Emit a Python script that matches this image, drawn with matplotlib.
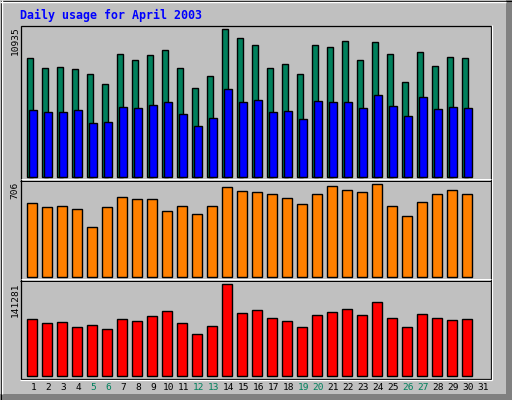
import matplotlib
matplotlib.use("Agg")
import matplotlib.pyplot as plt
from matplotlib.patches import Rectangle
from matplotlib.lines import Line2D
import matplotlib.transforms as mtransforms

title = "Daily usage for April 2003"
days = list(range(1, 31))
day_labels = [str(d) for d in range(1, 32)]
weekend_days = [5, 6, 12, 13, 19, 20, 26, 27]

hits = [8784, 8042, 8116, 7968, 7597, 6855, 9081, 8636, 9007, 9378,
        8042, 6558, 7449, 10935, 10268, 9749, 8042, 8339, 7597, 9749,
        9600, 10045, 8636, 9971, 9081, 7004, 9229, 8191, 8858, 8784]
files = [4926, 4778, 4778, 4926, 3962, 4036, 5149, 5075, 5297, 5520,
         4629, 3739, 4333, 6484, 5520, 5668, 4778, 4852, 4259, 5594,
         5520, 5520, 5075, 6039, 5223, 4481, 5891, 5000, 5149, 5075]
sites = [561, 530, 538, 515, 377, 530, 607, 591, 591, 500,
         538, 477, 538, 683, 652, 645, 630, 599, 553, 630,
         691, 660, 645, 706, 538, 461, 568, 630, 660, 630]
kbytes = [87178, 80995, 82540, 74812, 77903, 71720, 87178, 84086, 91815, 99543,
          80995, 63992, 76358, 141281, 96452, 101089, 88723, 84086, 74812, 93360,
          97997, 102635, 93360, 113454, 88723, 74812, 94906, 88723, 85632, 87178]

BG = "#C0C0C0"
GREEN = "#00805C"
BLUE = "#0000FF"
ORANGE = "#FF8000"
RED = "#FF0000"
W, H = 512, 400

fig = plt.figure(figsize=(W / 100, H / 100), dpi=100, facecolor=BG)

# overlay for frame decorations (pixel coordinates)
deco = fig.add_axes([0, 0, 1, 1], zorder=5)
deco.set_xlim(0, W)
deco.set_ylim(H, 0)
deco.axis("off")
deco.patch.set_alpha(0)

def hline(y, x0, x1, c, lw=1.0):
    deco.add_line(Line2D([x0, x1], [y, y], color=c, lw=lw * 0.72, solid_capstyle="butt"))

def vline(x, y0, y1, c, lw=1.0):
    deco.add_line(Line2D([x, x], [y0, y1], color=c, lw=lw * 0.72, solid_capstyle="butt"))

# outer frame
deco.add_patch(Rectangle((506, 0), 6, H, color="#808080", lw=0))
deco.add_patch(Rectangle((0, 394), W, 6, color="#808080", lw=0))
hline(1.5, 0, 506, "white", 1.4)
vline(1.5, 0, 394, "white", 1.4)
deco.add_patch(Rectangle((0.5, 0.5), W - 1, H - 1, fill=False, ec="black", lw=0.72))

# inner frame
deco.add_patch(Rectangle((20.5, 25.5), 470.5, 353.5, fill=False, ec="black", lw=0.9))
vline(492, 25, 380, "white", 1.2)
hline(380.2, 20, 492, "white", 1.2)
hline(179.2, 21, 491, "white", 1.0)
hline(180.5, 20, 491, "black", 1.0)
hline(279.2, 21, 491, "white", 1.0)
hline(280.5, 20, 491, "black", 1.0)

fig.text(20 / W, 1 - 15 / H, title, color=BLUE, fontsize=8.4,
         family="DejaVu Sans Mono", fontweight="bold", ha="left", va="center")

LEFT, RIGHT = 20, 491
X_FIRST = 31.7   # pixel centre of day 1
STEP = 15.0
xlo = 1 - (X_FIRST - LEFT) / STEP
xhi = xlo + (RIGHT - LEFT) / STEP

def make_panel(top, bottom, maxval, maxpix):
    ax = fig.add_axes([LEFT / W, 1 - bottom / H, (RIGHT - LEFT) / W, (bottom - top) / H])
    ax.patch.set_alpha(0)
    for s in ax.spines.values():
        s.set_visible(False)
    ax.set_xticks([])
    ax.set_yticks([])
    k = maxval / maxpix
    base = 3.3
    ax.set_ylim(-base * k, (bottom - top - base) * k)
    ax.set_xlim(xlo, xhi)
    return ax

ax1 = make_panel(25, 180, max(hits), 147.4)
ax2 = make_panel(180, 280, max(sites), 92.4)
ax3 = make_panel(280, 379, max(kbytes), 91.4)

elw = 1.0
ax1.bar([d - 0.333 for d in days], hits, width=0.44, align="edge",
        color=GREEN, edgecolor="black", linewidth=elw, zorder=2)
ax1.bar([d - 0.16 for d in days], files, width=0.493, align="edge",
        color=BLUE, edgecolor="black", linewidth=elw, zorder=3)
ax2.bar(days, sites, width=0.667, color=ORANGE, edgecolor="black", linewidth=elw, zorder=2)
ax3.bar(days, kbytes, width=0.667, color=RED, edgecolor="black", linewidth=elw, zorder=2)

# y max labels
for val, top in [(max(hits), 26.5), (max(sites), 181.5), (max(kbytes), 282.5)]:
    fig.text(15 / W, 1 - top / H, str(val), rotation=90, fontsize=6.8,
             family="DejaVu Sans Mono", ha="center", va="top", color="black")

# day labels
trans = mtransforms.blended_transform_factory(ax3.transData, fig.transFigure)
for i, lab in enumerate(day_labels):
    d = i + 1
    col = GREEN if d in weekend_days else "black"
    ax3.text(d + 0.1, 1 - 388 / H, lab, transform=trans, fontsize=6.8,
             family="DejaVu Sans Mono", ha="center", va="center", color=col,
             clip_on=False)

fig.savefig("out.png", dpi=100, facecolor=BG)
